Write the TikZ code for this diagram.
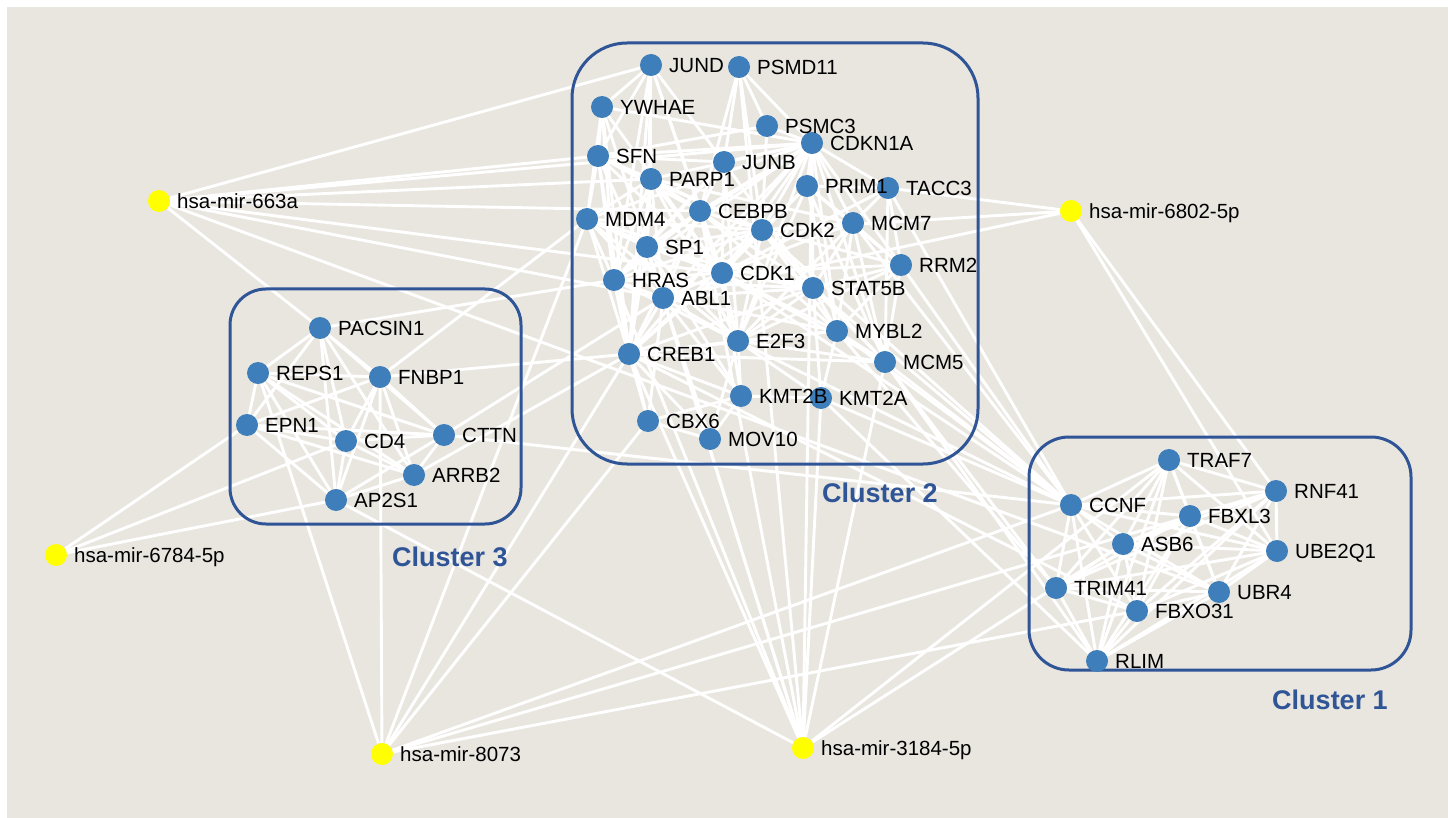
\documentclass[tikz,border=0pt]{standalone}
\usepackage{fontspec}
\setmainfont{Liberation Sans}
\definecolor{bg}{RGB}{233,230,224}
\definecolor{nodeblue}{RGB}{61,126,187}
\definecolor{boxblue}{RGB}{47,85,151}
\definecolor{mirY}{RGB}{255,255,0}
\pgfdeclarelayer{bgl}
\pgfdeclarelayer{edgel}
\pgfdeclarelayer{boxl}
\pgfsetlayers{bgl,edgel,boxl,main}
\tikzset{
  gene/.style={circle,fill=nodeblue,minimum size=22pt,inner sep=0pt},
  mir/.style={circle,fill=mirY,minimum size=22pt,inner sep=0pt},
  lbl/.style={anchor=base west,inner sep=0pt,font=\fontsize{20.5}{24}\selectfont,text=black},
  edge/.style={draw=white,line width=2.9pt},
  clusterbox/.style={draw=boxblue,line width=3pt},
  clbl/.style={anchor=base,inner sep=0pt,font=\fontsize{27}{32}\selectfont\bfseries,text=boxblue}
}
\begin{document}
\begin{tikzpicture}[x=1pt,y=-1pt]
\useasboundingbox (0,0) rectangle (1448,818);
\begin{pgfonlayer}{bgl}
\fill[bg] (7,7) rectangle (1448,818);
\end{pgfonlayer}
% ---------- nodes ----------
\foreach \n/\x/\y in {
 JUND/651/65,PSMD11/739/67,YWHAE/602/107,PSMC3/767/126,CDKN1A/812/143,SFN/598/156,
 JUNB/724/162,PARP1/651/179,PRIM1/807/186,TACC3/888/188,MDM4/587/219,CEBPB/700/211,
 CDK2/762/230,MCM7/853/223,SP1/647/247,HRAS/614/280,CDK1/722/273,RRM2/901/265,
 STAT5B/813/288,ABL1/663/298,MYBL2/837/331,E2F3/738/341,CREB1/629/354,MCM5/885/362,
 KMT2B/741/396,KMT2A/821/398,CBX6/648/421,MOV10/710/439,
 PACSIN1/320/328,REPS1/258/373,FNBP1/380/377,EPN1/247/425,CD4/346/441,CTTN/444/435,
 ARRB2/414/475,AP2S1/336/500,
 TRAF7/1169/460,RNF41/1276/491,CCNF/1071/505,FBXL3/1190/516,ASB6/1123/544,UBE2Q1/1277/551,
 TRIM41/1056/588,UBR4/1219/592,FBXO31/1137/611,RLIM/1097/661}
 \node[gene] (\n) at (\x,\y) {};
\foreach \n/\x/\y in {m663/159/201,m6802/1071/211,m6784/56/555,m8073/382/754,m3184/803/748}
 \node[mir] (\n) at (\x,\y) {};
% ---------- labels (on top of nodes) ----------
\foreach \n in {JUND,PSMD11,YWHAE,PSMC3,CDKN1A,SFN,JUNB,PARP1,PRIM1,TACC3,MDM4,CEBPB,
 CDK2,MCM7,SP1,HRAS,CDK1,RRM2,STAT5B,ABL1,MYBL2,E2F3,CREB1,MCM5,KMT2B,KMT2A,CBX6,MOV10,
 PACSIN1,REPS1,FNBP1,EPN1,CD4,CTTN,ARRB2,AP2S1,
 TRAF7,RNF41,CCNF,FBXL3,ASB6,UBE2Q1,TRIM41,UBR4,FBXO31,RLIM}
 \node[lbl] (\n-t) at ([shift={(18,7.5)}]\n.center) {\n};
\node[lbl] (m663-t) at ([shift={(18,7.5)}]m663.center) {hsa-mir-663a};
\node[lbl] (m6802-t) at ([shift={(18,7.5)}]m6802.center) {hsa-mir-6802-5p};
\node[lbl] (m6784-t) at ([shift={(18,7.5)}]m6784.center) {hsa-mir-6784-5p};
\node[lbl] (m8073-t) at ([shift={(18,7.5)}]m8073.center) {hsa-mir-8073};
\node[lbl] (m3184-t) at ([shift={(18,7.5)}]m3184.center) {hsa-mir-3184-5p};
% ---------- edges (below boxes and nodes) ----------
\begin{pgfonlayer}{edgel}
\foreach \a/\b in {
 JUND/YWHAE,JUND/SFN,JUND/PARP1,JUND/CEBPB,JUND/JUNB,JUND/CDK1,JUND/HRAS,JUND/CREB1,JUND/SP1,
 PSMD11/PSMC3,PSMD11/CDKN1A,PSMD11/JUNB,PSMD11/CEBPB,PSMD11/CDK2,
 YWHAE/SFN,YWHAE/MDM4,YWHAE/HRAS,YWHAE/CDKN1A,YWHAE/ABL1,YWHAE/CDK1,YWHAE/CREB1,
 PSMC3/CDKN1A,PSMC3/CDK2,PSMC3/SFN,
 CDKN1A/SFN,CDKN1A/JUNB,CDKN1A/PARP1,CDKN1A/PRIM1,CDKN1A/CDK2,CDKN1A/CDK1,CDKN1A/MCM7,CDKN1A/TACC3,
 CDKN1A/CEBPB,CDKN1A/MDM4,CDKN1A/HRAS,CDKN1A/SP1,CDKN1A/E2F3,CDKN1A/STAT5B,CDKN1A/ABL1,CDKN1A/CREB1,
 CDKN1A/MYBL2,CDKN1A/MCM5,CDKN1A/RRM2,
 SFN/PARP1,SFN/MDM4,SFN/HRAS,SFN/CDK1,SFN/CDK2,SFN/ABL1,SFN/CREB1,SFN/CEBPB,SFN/JUNB,
 JUNB/CEBPB,JUNB/SP1,JUNB/CDK1,JUNB/CREB1,JUNB/STAT5B,JUNB/E2F3,JUNB/HRAS,
 PARP1/CEBPB,PARP1/MDM4,PARP1/SP1,PARP1/CDK2,PARP1/CDK1,PARP1/HRAS,PARP1/E2F3,PARP1/ABL1,PARP1/CREB1,PARP1/MCM7,
 PRIM1/MCM7,PRIM1/CDK2,PRIM1/CDK1,PRIM1/RRM2,PRIM1/MCM5,PRIM1/MYBL2,PRIM1/E2F3,PRIM1/TACC3,
 TACC3/MCM7,TACC3/RRM2,TACC3/CDK1,TACC3/MCM5,
 MDM4/SP1,MDM4/HRAS,MDM4/CDK2,MDM4/CDK1,MDM4/ABL1,MDM4/CREB1,MDM4/E2F3,MDM4/STAT5B,
 CEBPB/SP1,CEBPB/CDK2,CEBPB/CDK1,CEBPB/HRAS,CEBPB/CREB1,CEBPB/STAT5B,CEBPB/E2F3,CEBPB/MYBL2,CEBPB/ABL1,
 CDK2/MCM7,CDK2/SP1,CDK2/CDK1,CDK2/HRAS,CDK2/ABL1,CDK2/E2F3,CDK2/STAT5B,CDK2/MYBL2,CDK2/MCM5,CDK2/RRM2,CDK2/CREB1,
 MCM7/RRM2,MCM7/CDK1,MCM7/MCM5,MCM7/MYBL2,MCM7/E2F3,MCM7/STAT5B,
 SP1/HRAS,SP1/CDK1,SP1/ABL1,SP1/CREB1,SP1/E2F3,SP1/STAT5B,SP1/KMT2B,
 HRAS/CDK1,HRAS/ABL1,HRAS/CREB1,HRAS/STAT5B,HRAS/E2F3,HRAS/CBX6,
 CDK1/ABL1,CDK1/STAT5B,CDK1/MYBL2,CDK1/E2F3,CDK1/CREB1,CDK1/RRM2,CDK1/MCM5,CDK1/KMT2B,
 RRM2/STAT5B,RRM2/MYBL2,RRM2/MCM5,RRM2/E2F3,
 STAT5B/ABL1,STAT5B/MYBL2,STAT5B/E2F3,STAT5B/CREB1,STAT5B/MCM5,STAT5B/KMT2A,
 ABL1/CREB1,ABL1/E2F3,ABL1/MYBL2,ABL1/KMT2B,ABL1/CBX6,ABL1/MOV10,
 MYBL2/E2F3,MYBL2/MCM5,MYBL2/CREB1,MYBL2/KMT2A,
 E2F3/CREB1,E2F3/MCM5,E2F3/KMT2B,E2F3/KMT2A,E2F3/MOV10,
 CREB1/CBX6,CREB1/MOV10,CREB1/KMT2B,CREB1/MCM5,
 KMT2B/KMT2A,KMT2B/CBX6,KMT2B/MOV10,CBX6/MOV10}
 \draw[edge] (\a) -- (\b);
\foreach \a/\b in {
 PACSIN1/REPS1,PACSIN1/FNBP1,PACSIN1/EPN1,PACSIN1/CD4,PACSIN1/CTTN,PACSIN1/ARRB2,PACSIN1/AP2S1,
 REPS1/FNBP1,REPS1/EPN1,REPS1/CD4,REPS1/CTTN,REPS1/ARRB2,REPS1/AP2S1,
 FNBP1/EPN1,FNBP1/CD4,FNBP1/CTTN,FNBP1/ARRB2,FNBP1/AP2S1,
 EPN1/CD4,EPN1/CTTN,EPN1/ARRB2,EPN1/AP2S1,
 CD4/CTTN,CD4/ARRB2,CD4/AP2S1,CTTN/ARRB2,CTTN/AP2S1,ARRB2/AP2S1}
 \draw[edge] (\a) -- (\b);
\foreach \a/\b in {
 TRAF7/RNF41,TRAF7/CCNF,TRAF7/FBXL3,TRAF7/ASB6,TRAF7/UBE2Q1,TRAF7/TRIM41,TRAF7/UBR4,TRAF7/FBXO31,TRAF7/RLIM,
 RNF41/CCNF,RNF41/FBXL3,RNF41/ASB6,RNF41/UBE2Q1,RNF41/TRIM41,RNF41/UBR4,RNF41/FBXO31,RNF41/RLIM,
 CCNF/FBXL3,CCNF/ASB6,CCNF/UBE2Q1,CCNF/TRIM41,CCNF/UBR4,CCNF/FBXO31,CCNF/RLIM,
 FBXL3/ASB6,FBXL3/UBE2Q1,FBXL3/TRIM41,FBXL3/UBR4,FBXL3/FBXO31,FBXL3/RLIM,
 ASB6/UBE2Q1,ASB6/TRIM41,ASB6/UBR4,ASB6/FBXO31,ASB6/RLIM,
 UBE2Q1/TRIM41,UBE2Q1/UBR4,UBE2Q1/FBXO31,UBE2Q1/RLIM,
 TRIM41/UBR4,TRIM41/FBXO31,TRIM41/RLIM,UBR4/FBXO31,UBR4/RLIM,FBXO31/RLIM}
 \draw[edge] (\a) -- (\b);
\foreach \a/\b in {
 TACC3/CCNF,RRM2/CCNF,MCM7/CCNF,MCM5/CCNF,STAT5B/CCNF,MYBL2/CCNF,KMT2A/CCNF,CDK1/CCNF,E2F3/CCNF,CDK2/CCNF,
 MCM5/TRIM41,MYBL2/TRIM41,KMT2A/RLIM,CREB1/FBXO31,MCM5/RLIM,
 PACSIN1/HRAS,FNBP1/CREB1,CTTN/ABL1,ARRB2/CREB1,FNBP1/MDM4,CTTN/CCNF}
 \draw[edge] (\a) -- (\b);
\foreach \a/\b in {
 m663/JUND,m663/SFN,m663/CDKN1A,m663/PARP1,m663/CEBPB,m663/CDK1,m663/ABL1,m663/PACSIN1,m663/UBR4,
 m6802/TACC3,m6802/CDK2,m6802/ABL1,m6802/RNF41,m6802/UBE2Q1,
 m6784/EPN1,m6784/CD4,m6784/AP2S1,
 m8073/REPS1,m8073/FNBP1,m8073/MDM4,m8073/CREB1,m8073/CBX6,m8073/CCNF,m8073/RNF41,m8073/FBXO31,
 m3184/CREB1,m3184/HRAS,m3184/ABL1,m3184/SP1,m3184/CEBPB,m3184/PSMD11,m3184/CDKN1A,m3184/KMT2A,
 m3184/MCM5,m3184/TRAF7,m3184/ASB6,m3184/AP2S1}
 \draw[edge] (\a) -- (\b);
\end{pgfonlayer}
% ---------- cluster boxes ----------
\begin{pgfonlayer}{boxl}
\draw[clusterbox,rounded corners=55pt] (572,43) rectangle (978,464);
\draw[clusterbox,rounded corners=36pt] (230,289) rectangle (521,524);
\draw[clusterbox,rounded corners=40pt] (1029,437) rectangle (1411,670);
\end{pgfonlayer}
\node[clbl] (c2) at (880,502) {Cluster 2};
\node[clbl] (c3) at (450,566) {Cluster 3};
\node[clbl] (c1) at (1330,709) {Cluster 1};
\end{tikzpicture}
\end{document}
